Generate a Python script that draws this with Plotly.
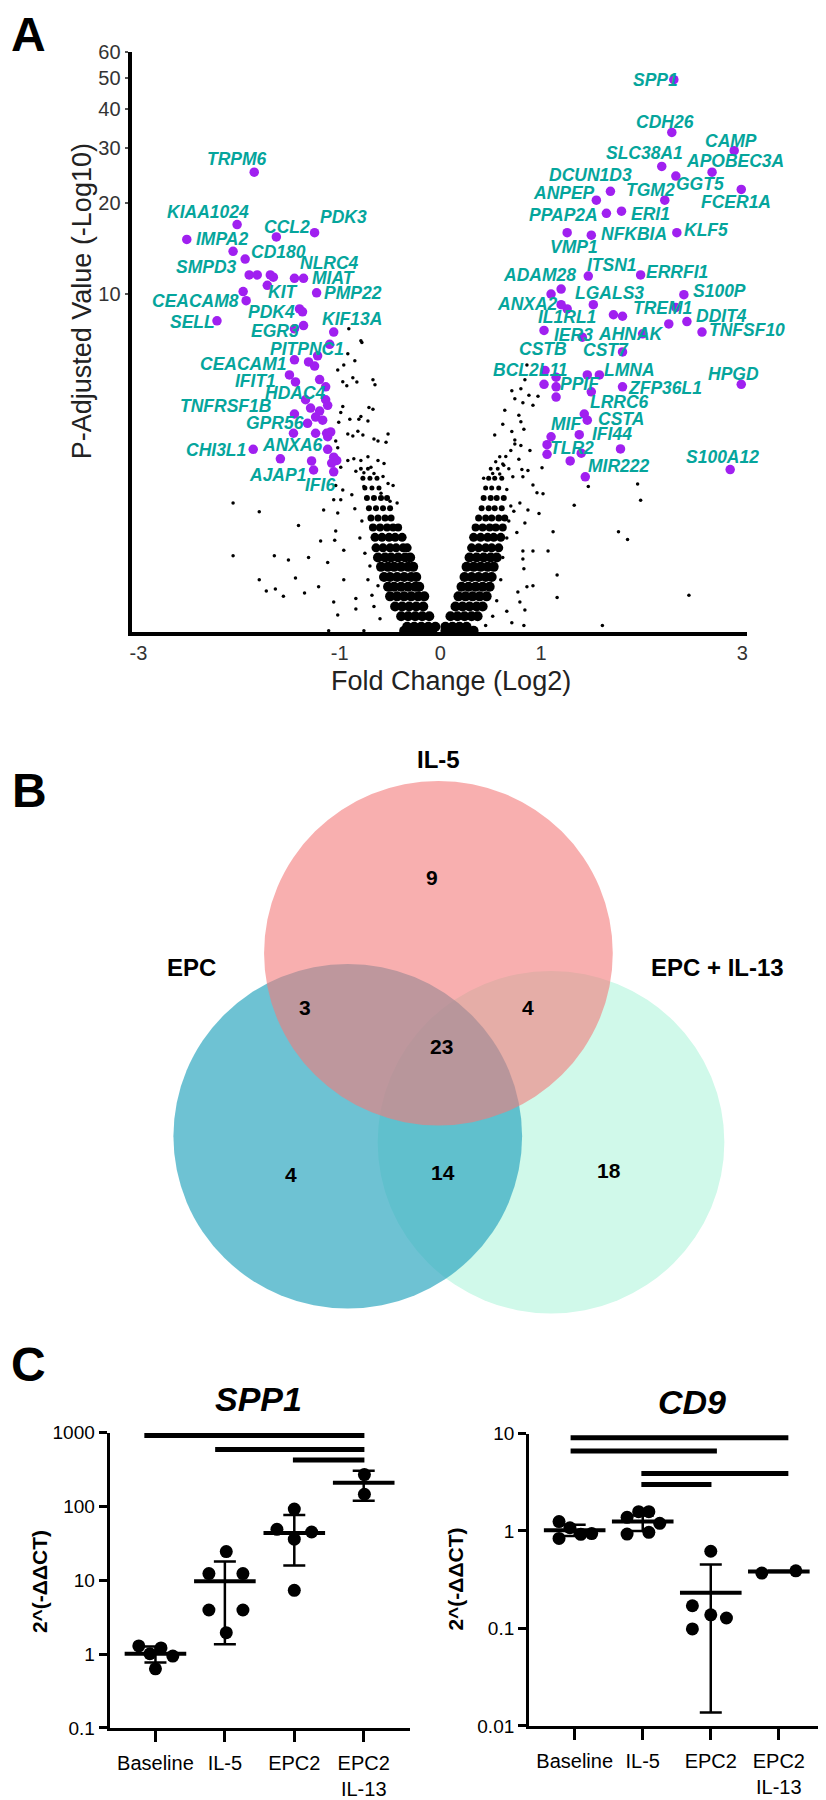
import numpy as np
import plotly.graph_objects as go

# the page body has an 8 px margin, so the figure starts 8 px in and is sized to end at 826x1800
OFF = 8
W, H = 826 - OFF, 1800 - OFF
FONT = "Liberation Sans, Arial, sans-serif"
TEAL = "#05A59C"
PURPLE = "#A020F0"

# ---------------- A: volcano plot ----------------
# labelled genes: log2 fold change and -log10 adjusted p value
lab_genes = ["TRPM6", "KIAA1024", "IMPA2", "CCL2", "PDK3", "CD180", "SMPD3", "NLRC4", "MIAT",
             "KIT", "PMP22", "CEACAM8", "PDK4", "SELL", "EGR3", "KIF13A", "PITPNC1", "CEACAM1",
             "IFIT1", "HDAC4", "TNFRSF1B", "GPR56", "CHI3L1", "ANXA6", "AJAP1", "IFI6",
             "SPP1", "CDH26", "CAMP", "SLC38A1", "APOBEC3A", "GGT5", "FCER1A", "DCUN1D3", "ANPEP",
             "TGM2", "PPAP2A", "ERI1", "VMP1", "NFKBIA", "KLF5", "ITSN1", "ERRFI1", "S100P",
             "ADAM28", "ANXA2", "LGALS3", "TREM1", "IL1RL1", "DDIT4", "TNFSF10", "CSTB", "IER3",
             "AHNAK", "CST7", "BCL2L11", "LMNA", "PPIF", "ZFP36L1", "HPGD", "LRRC6", "CSTA",
             "MIF", "IFI44", "TLR2", "S100A12", "MIR222"]
lab_fc = [-1.85, -2.02, -2.52, -1.63, -1.25, -1.94, -1.90, -1.45, -1.36,
          -1.72, -1.23, -1.93, -1.37, -2.22, -1.45, -1.06, -1.10, -1.45,
          -1.50, -1.14, -1.45, -1.32, -1.86, -1.12, -1.26, -1.06,
          2.32, 2.30, 2.92, 2.20, 2.70, 2.34, 2.99, 1.69, 1.55,
          2.23, 1.65, 1.80, 1.26, 1.50, 2.35, 1.47, 1.99, 2.42,
          1.10, 1.20, 1.52, 2.34, 1.72, 2.45, 2.60, 1.03, 1.41,
          2.01, 1.81, 1.04, 1.58, 1.50, 1.81, 2.99, 1.43, 1.46,
          1.10, 1.38, 1.06, 2.88, 1.44]
lab_nlp = [25.1, 17.0, 15.2, 15.5, 16.0, 13.1, 11.6, 11.3, 11.3,
           10.7, 10.1, 9.5, 8.7, 8.1, 7.6, 7.4, 6.7, 5.9,
           5.2, 4.7, 3.7, 3.4, 2.66, 2.66, 2.16, 2.12,
           49.3, 33.6, 29.4, 26.2, 25.1, 24.4, 22.1, 21.8, 20.4,
           20.4, 18.5, 18.8, 16.0, 15.7, 16.0, 11.5, 11.6, 9.95,
           10.0, 9.2, 9.2, 9.0, 8.5, 8.05, 7.4, 7.5, 7.1,
           7.3, 6.3, 5.4, 5.2, 4.5, 4.7, 4.8, 3.7, 3.5,
           3.0, 3.06, 2.53, 2.17, 2.01]
# where each name sits relative to its dot, px (right, down)
lab_dx = [-17, -29, 35, 11, 29, 33, -43, 35, 30, 16, 36, -51, -31, -24, -19, 18, -23, -51,
          -34, -30, -69, -33, -37, -35, -36, -14,
          -18, -7, -3, -17, 23, 24, -5, -20, -32, -14, -43, 29, 7, 43, 29, 24, 36, 36,
          -12, -34, 16, -13, -46, 35, 45, -1, -9, -12, -17, -15, 30, -11, 42, -8, 35, 34,
          15, 33, 25, -8, 34]
lab_dy = [-13, -13, 0, -10, -16, -7, -8, -15, 0, 7, 0, 0, 0, 1, 2, -13, 5, 4,
          6, 6, -8, 0, 1, -4, 5, 13,
          0, -10, -10, -13, -11, 8, 13, -16, -7, -10, 2, 3, 14, -1, -3, -11, -3, -4,
          -19, -1, -12, 0, 2, -6, -2, 19, -2, 0, -2, 0, -5, -8, 1, -10, -12, -1,
          -13, -1, -6, -13, -11]

# other significant genes (purple, unlabelled)
sig_fc = [-2.06, -1.82, -1.69, -1.66, -1.96, -1.40, -1.36, -1.22, -1.31, -1.25, -1.44, -1.20,
          -1.34, -1.14, -1.12, -1.29, -1.20, -1.24, -1.17, -1.46, -1.24, -1.13, -1.09, -1.12,
          -1.59, -1.28, -1.06, -1.03, -1.08,
          1.20, 1.26, 1.81, 2.27, 1.15, 1.03, 1.15, 1.15, 1.46, 1.06, 1.40, 1.29, 1.79]
sig_nlp = [13.9, 11.6, 11.6, 11.4, 10.2, 8.9, 7.8, 6.1, 5.8, 5.6, 4.9, 5.0,
           4.2, 4.2, 4.0, 3.9, 3.8, 3.6, 3.5, 3.1, 3.1, 3.1, 3.14, 3.0,
           2.42, 2.37, 2.46, 2.38, 2.32,
           10.4, 8.9, 8.4, 7.9, 5.1, 4.8, 4.7, 4.3, 5.2, 2.78, 2.56, 2.37, 2.67]

# scattered non-significant genes
bg_fc = [-0.91, -0.78, -0.92, -0.96, -0.85, -1.02, -0.97, -0.93, -0.83, -0.67, -0.65, -0.97,
         -0.99, -0.79, -0.71, -0.67, -0.90, -1.01, -0.72, -0.81, -0.52, -0.92, -0.87, -0.82,
         -0.77, -0.66, -0.62, -0.54, -1.04, -1.02, -0.92, -0.86, -0.79, -0.72, -0.62, -0.56,
         -0.99, -0.84, -0.76, -0.69, -0.66, -0.57, -0.52, -0.47, -1.04, -0.97, -0.99, -1.06,
         -0.76, -0.59, -0.50, -0.43, -2.06, -1.80, -1.41, -1.19, -1.05, -0.96, -1.04, -1.16,
         -1.02, -2.06, -1.65, -1.51, -1.31, -1.12, -1.80, -1.44, -0.96, -1.73, -1.64, -1.56,
         -1.35, -1.21, -1.06, -1.02, -0.84, -0.84, -1.11, -0.76, -0.62, -0.79, -0.87,
         -0.72, -0.70, -0.75, -0.68, -0.66, -0.60, -0.80, -0.78, -0.85, -0.88,
         0.86, 0.84, 0.71, 0.80, 0.88, 0.97, 0.74, 0.82, 0.92, 0.64, 0.78, 0.80, 0.62, 0.83,
         0.71, 0.54, 0.74, 0.74, 0.80, 0.89, 0.70, 0.59, 0.65, 0.78, 0.55, 0.63, 0.68, 0.81,
         0.87, 1.01, 0.52, 0.59, 0.72, 0.82, 0.43, 0.92, 0.96, 1.02, 0.87, 0.98, 1.33, 1.47,
         1.96, 1.99, 0.79, 0.73, 0.84, 0.76, 1.12, 1.77, 1.86, 0.82, 0.92, 1.07, 0.82, 0.83,
         1.16, 0.86, 0.92, 0.77, 1.16, 2.47, 0.79, 0.84, 0.71, 0.83, 1.61, 0.66,
         0.56, 0.60, 0.62, 0.66, 0.68, 0.70, 0.66, 0.52, 0.45, 0.62]
bg_nlp = [7.6, 6.8, 6.2, 5.65, 5.85, 5.42, 4.91, 4.74, 4.9, 4.99, 4.78, 3.96,
          3.75, 3.62, 3.92, 3.86, 3.53, 3.43, 3.47, 3.53, 3.08, 3.08, 3.02, 3.16,
          3.05, 2.94, 2.88, 2.85, 2.88, 2.70, 2.38, 2.42, 2.38, 2.47, 2.38, 2.31,
          2.22, 2.13, 2.10, 2.22, 2.08, 2.02, 1.87, 1.83, 1.83, 1.74, 1.56, 1.56,
          1.81, 1.68, 1.53, 1.50, 1.50, 1.35, 1.13, 0.91, 0.92, 0.79, 1.05, 1.38,
          1.33, 0.72, 0.72, 0.67, 0.70, 0.64, 0.45, 0.47, 0.45, 0.34, 0.36, 0.29,
          0.32, 0.38, 0.24, 0.13, 0.27, 0.18, 0.01, 0.01, 0.39, 6.9, 5.08,
          0.45, 0.60, 0.75, 0.30, 0.20, 0.10, 0.95, 1.2, 1.4, 1.65,
          5.65, 4.99, 4.54, 4.62, 4.37, 4.33, 4.24, 4.09, 4.0, 3.83, 3.66, 3.45, 3.37, 3.22,
          3.15, 3.05, 2.91, 2.80, 2.76, 2.63, 2.63, 2.47, 2.48, 2.41, 2.35, 2.27, 2.19, 2.17,
          2.15, 2.21, 2.08, 2.07, 2.01, 2.01, 1.98, 1.84, 1.69, 1.67, 1.38, 1.32, 1.46, 1.81,
          1.86, 1.55, 1.50, 1.36, 1.17, 1.03, 1.04, 1.04, 0.93, 0.78, 0.78, 0.78, 0.68, 0.57,
          0.50, 0.38, 0.39, 0.33, 0.28, 0.30, 0.24, 0.17, 0.07, 0.05, 0.05, 0.16,
          0.25, 0.45, 0.70, 0.95, 1.2, 1.45, 1.75, 0.12, 0.05, 2.3]

# dense body of the cloud: -log10 p level and the fold changes packed at that level
core_nlp = [0.01, 0.04, 0.12, 0.20, 0.29, 0.38, 0.48, 0.59, 0.70, 0.82, 0.96, 1.10, 1.25,
            1.41, 1.59, 1.78, 1.98, 2.19]
core_fc = [
    [-0.36, -0.29, -0.22, -0.15, -0.08, 0.05, 0.12, 0.19, 0.26, 0.33],
    [-0.33, -0.26, -0.19, -0.12, -0.05, 0.05, 0.12, 0.19, 0.26],
    [-0.39, -0.32, -0.25, -0.18, -0.11, 0.10, 0.17, 0.24, 0.31, 0.37],
    [-0.45, -0.38, -0.31, -0.24, -0.17, 0.15, 0.22, 0.29, 0.36, 0.42],
    [-0.50, -0.43, -0.36, -0.29, -0.22, -0.16, 0.18, 0.25, 0.32, 0.39, 0.46],
    [-0.52, -0.46, -0.39, -0.32, -0.25, -0.21, 0.21, 0.28, 0.35, 0.42, 0.49],
    [-0.56, -0.50, -0.43, -0.36, -0.29, -0.24, 0.24, 0.31, 0.38, 0.45, 0.51],
    [-0.59, -0.52, -0.46, -0.39, -0.32, -0.27, 0.26, 0.33, 0.40, 0.47, 0.53],
    [-0.62, -0.55, -0.49, -0.42, -0.35, -0.30, 0.29, 0.36, 0.43, 0.50, 0.56],
    [-0.64, -0.57, -0.50, -0.44, -0.37, -0.33, 0.31, 0.38, 0.45, 0.51, 0.58],
    [-0.65, -0.58, -0.51, -0.45, -0.38, 0.33, 0.40, 0.47, 0.53, 0.60],
    [-0.67, -0.60, -0.53, -0.47, -0.42, 0.35, 0.42, 0.49, 0.55, 0.62],
    [-0.69, -0.62, -0.55, -0.49, 0.38, 0.45, 0.51, 0.58, 0.64],
    [-0.71, -0.64, -0.57, -0.50, 0.41, 0.48, 0.54, 0.61],
    [-0.73, -0.66, -0.59, -0.53, 0.43, 0.50, 0.56, 0.63],
    [-0.75, -0.68, -0.61, 0.45, 0.51, 0.58],
    [-0.77, -0.70, -0.63, 0.48, 0.54, 0.61],
    [-0.79, -0.72, 0.50, 0.57],
]
core_dot = [10, 10, 10, 10, 10, 10, 10, 10, 10, 9, 9, 8, 7, 6, 6, 5, 5, 4]

# ---------------- B: Venn diagram ----------------
venn_sets = ["IL-5", "EPC", "EPC + IL-13"]
venn_regions = ["IL-5 only", "IL-5 & EPC", "IL-5 & EPC + IL-13", "all three",
                "EPC only", "EPC & EPC + IL-13", "EPC + IL-13 only"]
venn_counts = [9, 3, 4, 23, 4, 14, 18]

# ---------------- C: qPCR ----------------
groups = ["Baseline", "IL-5", "EPC2", "EPC2<br>IL-13"]
spp1_vals = [[1.29, 1.21, 1.01, 0.94, 0.63], [24.4, 12.3, 12.3, 3.95, 3.95, 1.95],
             [92, 48.9, 45, 36, 7.3], [270, 146]]
spp1_mean = [1.01, 9.7, 43.7, 209]
spp1_hi = [1.27, 17.9, 76.6, 305]
spp1_lo = [0.77, 1.36, 15.8, 119]
spp1_bars = [(-0.16, 3.01, 912), (0.86, 3.01, 590), (1.98, 3.01, 425)]

cd9_vals = [[1.25, 1.08, 0.925, 0.94, 0.84], [1.38, 1.58, 1.58, 1.2, 0.93, 0.97],
            [0.62, 0.171, 0.138, 0.128, 0.099], [0.37, 0.39]]
cd9_mean = [1.02, 1.25, 0.232, 0.385]
cd9_hi = [1.16, 1.44, 0.452, 0.39]
cd9_lo = [0.89, 1.0, 0.0137, 0.38]
cd9_bars = [(-0.06, 3.14, 9.05), (-0.06, 2.09, 6.63), (0.98, 3.14, 3.88), (0.98, 2.01, 3.0)]

# horizontal scatter of the dots inside each group
spp1_jit = [[-0.24, 0.08, -0.08, 0.25, 0], [0.02, -0.23, 0.26, -0.23, 0.26, 0.02],
            [0, -0.25, 0.25, 0, 0], [0.01, 0.01]]
cd9_jit = [[-0.23, -0.07, 0.09, 0.25, -0.23], [-0.23, -0.06, 0.09, 0.25, -0.23, 0.09],
           [0, -0.27, 0, 0.23, -0.27], [-0.25, 0.25]]


# page pixel -> paper fraction
def dom_x(a, b):
    return [(a - OFF) / W, (b - OFF) / W]


def dom_y(top, bottom):
    return [1 - (bottom - OFF) / H, 1 - (top - OFF) / H]


fig = go.Figure()

# volcano (y axis is log10(1 + value))
cx = [f for row in core_fc for f in row]
cy = [n + 1 for n, row in zip(core_nlp, core_fc) for _ in row]
cs = [s for s, row in zip(core_dot, core_fc) for _ in row]
fig.add_trace(go.Scatter(x=cx, y=cy, mode="markers", xaxis="x", yaxis="y",
                         marker=dict(color="black", size=cs, opacity=1, line=dict(width=0))))
fig.add_trace(go.Scatter(x=bg_fc, y=np.array(bg_nlp) + 1, mode="markers", xaxis="x", yaxis="y",
                         marker=dict(color="black", size=3.5)))
fig.add_trace(go.Scatter(x=sig_fc + lab_fc, y=np.array(sig_nlp + lab_nlp) + 1, mode="markers",
                         xaxis="x", yaxis="y", marker=dict(color=PURPLE, size=9.5)))

ann = []
for g, fc, nlp, dx, dy in zip(lab_genes, lab_fc, lab_nlp, lab_dx, lab_dy):
    ann.append(dict(x=fc, y=np.log10(nlp + 1), xref="x", yref="y", text="<b><i>%s</i></b>" % g,
                    showarrow=False, xshift=dx, yshift=-dy,
                    font=dict(family=FONT, size=17.5, color=TEAL)))


def paper_text(text, x, y, size, bold=True, angle=0, color="black"):
    t = "<b>%s</b>" % text if bold else text
    return dict(x=(x - OFF) / W, y=1 - (y - OFF) / H, xref="paper", yref="paper", text=t,
                showarrow=False, textangle=angle, xanchor="center", yanchor="middle",
                font=dict(family=FONT, size=size, color=color))


ann += [
    paper_text("A", 27, 24, 48),
    paper_text("B", 28, 792, 48),
    paper_text("C", 27, 1375, 48),
    paper_text("P-Adjusted Value (-Log10)", 80, 295, 27, bold=False, angle=-90, color="#222"),
    paper_text("Fold Change (Log2)", 451, 681, 27, bold=False, color="#222"),
]

# Venn circles: (centre x, centre y, radius) in page px
venn_circles = {"EPC + IL-13": (551, 1149, 174), "EPC": (347, 1143, 175), "IL-5": (438, 957, 175)}
venn_fill = {"EPC + IL-13": ("#D0F9EA", 1.0), "EPC": ("rgb(49,168,192)", 0.7),
             "IL-5": ("rgb(243,122,122)", 0.6)}
shapes = []
for s in ["EPC + IL-13", "EPC", "IL-5"]:
    x0, y0, r = venn_circles[s]
    col, op = venn_fill[s]
    shapes.append(dict(type="circle", xref="x2", yref="y2", x0=x0 - r, x1=x0 + r,
                       y0=y0 - r, y1=y0 + r, fillcolor=col, opacity=op, line=dict(width=0),
                       layer="below"))

set_pos = [(438, 760), (190, 972), (718, 972)]
for s, (x, y) in zip(venn_sets, set_pos):
    ann.append(dict(x=x, y=y, xref="x2", yref="y2", text="<b>%s</b>" % s, showarrow=False,
                    font=dict(family=FONT, size=24, color="black")))
count_pos = [(432, 880), (304, 1012), (528, 1012), (441, 1052), (290, 1182), (443, 1180),
             (609, 1178)]
for c, (x, y) in zip(venn_counts, count_pos):
    ann.append(dict(x=x, y=y, xref="x2", yref="y2", text="<b>%d</b>" % c, showarrow=False,
                    font=dict(family=FONT, size=21, color="black")))


# qPCR panels
def qpcr(vals, jit, mean, hi, lo, bars, xa, ya):
    for i, (v, j) in enumerate(zip(vals, jit)):
        fig.add_trace(go.Scatter(x=[i + d for d in j], y=v, mode="markers", xaxis=xa, yaxis=ya,
                                 marker=dict(color="black", size=13)))
    fig.add_trace(go.Scatter(
        x=list(range(len(mean))), y=mean, mode="markers", xaxis=xa, yaxis=ya,
        marker=dict(symbol="line-ew", size=44, color="black", line=dict(width=4, color="black")),
        error_y=dict(type="data", symmetric=False, array=[h - m for h, m in zip(hi, mean)],
                     arrayminus=[m - l for m, l in zip(mean, lo)], color="black",
                     thickness=2.5, width=11)))
    for x0, x1, y in bars:
        fig.add_trace(go.Scatter(x=[x0, x1], y=[y, y], mode="lines", xaxis=xa, yaxis=ya,
                                 line=dict(color="black", width=5)))


qpcr(spp1_vals, spp1_jit, spp1_mean, spp1_hi, spp1_lo, spp1_bars, "x3", "y3")
qpcr(cd9_vals, cd9_jit, cd9_mean, cd9_hi, cd9_lo, cd9_bars, "x4", "y4")

ann += [
    paper_text("<i>SPP1</i>", 257, 1410, 34),
    paper_text("<i>CD9</i>", 693, 1413, 34),
    paper_text("2^(-ΔΔCT)", 37, 1595, 21, angle=-90),
    paper_text("2^(-ΔΔCT)", 455, 1593, 21, angle=-90),
]

cat_axis = dict(tickvals=[0, 1, 2, 3], ticktext=groups, showline=True, linewidth=3,
                linecolor="black", ticks="outside", ticklen=11, tickwidth=3, tickcolor="black",
                ticklabelstandoff=4, showgrid=False, zeroline=False,
                tickfont=dict(family=FONT, size=20, color="black"))
log_axis = dict(type="log", showline=True, linewidth=3, linecolor="black", ticks="outside",
                ticklen=8, tickwidth=2.5, tickcolor="black", showgrid=False, zeroline=False,
                tickfont=dict(family=FONT, size=19, color="black"))

fig.update_layout(
    width=W, height=H, margin=dict(l=0, r=0, t=0, b=0),
    paper_bgcolor="white", plot_bgcolor="rgba(0,0,0,0)", showlegend=False,
    font=dict(family=FONT, color="black"),
    xaxis=dict(domain=dom_x(130, 748), range=[-3.069, 3.05], tickvals=[-3, -1, 0, 1, 3],
               ticktext=["-3", "-1", "0", "1", "3"], showline=True, linewidth=4,
               linecolor="black", ticks="", showgrid=False, zeroline=False, anchor="y",
               tickfont=dict(family=FONT, size=20, color="#333")),
    yaxis=dict(domain=dom_y(42, 631), type="log", range=[0, np.log10(61)],
               tickvals=[11, 21, 31, 41, 51, 61], ticktext=["10", "20", "30", "40", "50", "60"],
               showline=True, linewidth=4, linecolor="black", ticks="outside", ticklen=3,
               tickwidth=2, tickcolor="#555", showgrid=False, zeroline=False, anchor="x",
               tickfont=dict(family=FONT, size=20, color="#333")),
    xaxis2=dict(domain=[0, 1], range=[OFF, OFF + W], visible=False, anchor="y2"),
    yaxis2=dict(domain=dom_y(740, 1340), range=[1340, 740], visible=False, anchor="x2"),
    xaxis3=dict(domain=dom_x(108, 409), range=[-0.66, 3.66], anchor="y3", **cat_axis),
    yaxis3=dict(domain=dom_y(1444, 1744), range=[-1, 3], anchor="x3",
                tickvals=[0.1, 1, 10, 100, 1000], ticktext=["0.1", "1", "10", "100", "1000"],
                **log_axis),
    xaxis4=dict(domain=dom_x(529, 822), range=[-0.67, 3.62], anchor="y4", **cat_axis),
    yaxis4=dict(domain=dom_y(1445, 1742), range=[-2, 1], anchor="x4",
                tickvals=[0.01, 0.1, 1, 10], ticktext=["0.01", "0.1", "1", "10"], **log_axis),
    shapes=shapes,
    annotations=ann,
)

fig.write_html("out.html")
